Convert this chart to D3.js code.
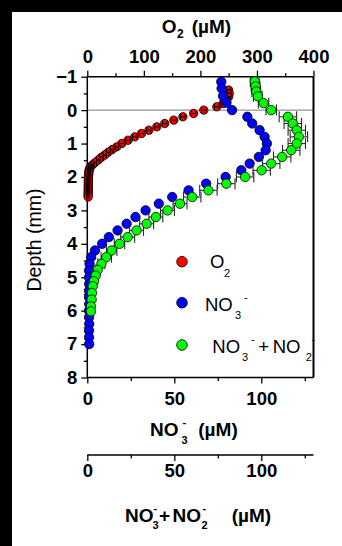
<!DOCTYPE html>
<html><head><meta charset="utf-8">
<script src="https://cdn.jsdelivr.net/npm/d3@7"></script>
<style>
html,body{margin:0;padding:0;background:#fff;}
svg{display:block;}
text{font-family:"Liberation Sans",Arial,Helvetica,sans-serif;}
</style></head><body>
<svg id="chart" width="342" height="546"></svg>
<script>
// ---- profile data (depth in mm, concentrations in µM) ----
const o2Depth = [-0.6,-0.5,-0.4,-0.3,-0.2,-0.1,0,0.1,0.2,0.3,0.4,0.5,0.6,0.7,0.8,0.9,1.0,1.1,
  1.18,1.26,1.34,1.41,1.49,1.57,1.64,1.7,
  1.75,1.8,1.85,1.9,1.95,2.0,2.05,2.1,2.15,2.2,2.25,2.3,2.35,2.4,2.45,2.5,2.55,2.6];
const o2Values = [250,251,250,246,240,229,206,188,169,153,137,123,109,96,84,72,61,52,
  44,37,31,25,19.5,13.6,9,5.5,
  4,3.2,2.8,2.5,2.3,2.1,2,2,1.9,1.9,1.8,1.8,1.7,1.7,1.6,1.6,1.5,1.5];
const o2Err = [4,4,4,4,4,4,4,4,4,4,4,4,4,4,4,4,4,3,
  3,3,3,3,3,3,3,3,
  2,2,2,2,2,2,2,2,2,2,2,2,2,2,2,2,2,2];

const no3Depth = [-0.85,-0.65,-0.42,-0.22,0,0.2,0.4,0.6,0.8,1.0,1.2,1.4,1.6,1.8,2.0,2.2,2.4,2.6,2.8,3.0,
  3.2,3.4,3.6,3.8,4.0,4.2,4.4,4.6,4.8,5.0,5.2,5.4,5.6,5.8,6.0,6.2,6.4,6.6,6.8,7.0];
const no3Values = [77.0,77.2,78.0,80.0,83.2,92.0,94.8,99.0,101.9,103.2,102.5,98.6,93.3,88.5,79.5,68.3,58.2,48.8,41.1,33.5,
  27.7,22.6,17.4,12.4,8.5,4.4,2.2,1.3,1.0,1.0,1.1,1.0,1.0,1.1,1.0,1.0,1.1,1.0,1.0,1.1];

const noxDepth = [-0.86,-0.71,-0.56,-0.41,-0.21,0.0,0.2,0.4,0.6,0.8,1.0,1.2,1.4,1.6,1.8,2.0,2.2,2.4,2.6,2.8,
  3.0,3.2,3.4,3.6,3.8,4.0,4.2,4.4,4.6,4.78,4.95,5.12,5.27,5.47,5.67,5.87,6.02];
const noxValues = [96.2,96.7,97.1,98.0,101.3,105.7,115.3,118.1,120.4,121.6,120.4,117.2,112.0,105.7,100.2,90.7,79.9,69.6,60.3,53.3,
  46.1,39.4,34.1,28.3,23.2,18.5,14.0,10.9,8.1,6.0,4.8,3.8,3.1,2.7,2.5,2.1,2.1];
const noxErr = [2.5,2.5,2.5,2.5,3,3,5,5,5,5,5,5,5,5,5,5,5,5,5,4,
  4,4,4,4,4,3,3,3,2,1.5,1.5,1.5,1.5,1.5,1.5,1.5,1.5];

// axis ticks
const depthTicks = [-1,0,1,2,3,4,5,6,7,8];
const depthMinor = [-0.5,0.5,1.5,2.5,3.5,4.5,5.5,6.5,7.5];
const o2Ticks = [0,100,200,300,400];
const o2Minor = [50,150,250,350];
const nTicks = [0,50,100];
const nMinor = [25,75,125];

// ---- layout ----
const W = 342, H = 546;
const L = 87.3, R = 313.5, T = 76.7, B = 377.5;
const AX2 = 455;

const svg = d3.select("#chart");
svg.append("rect").attr("width", W).attr("height", H).attr("fill", "#fff");
svg.append("rect").attr("x", 0).attr("y", 0).attr("width", 12).attr("height", H).attr("fill", "#000");
svg.append("rect").attr("x", 0).attr("y", 0).attr("width", W).attr("height", 12).attr("fill", "#000");

const y = d3.scaleLinear().domain([-1, 8]).range([T, B]);
const xO2 = d3.scaleLinear().domain([0, 400]).range([L, R]);
const xNO3 = d3.scaleLinear().domain([0, 130]).range([L, R]);
const xNOx = d3.scaleLinear().domain([0, 130]).range([L, R]);

function styleAxis(g) {
  g.select(".domain").remove();
  g.selectAll(".tick line").attr("stroke", "#000").attr("stroke-width", 1.3);
  g.selectAll(".tick text").attr("fill", "#000").attr("font-size", 18.5).attr("font-weight", "bold")
    .attr("font-family", "'Liberation Sans',Arial,sans-serif");
}
function addAxis(axisFn, scale, major, minor, transform, pad) {
  const gMin = svg.append("g").attr("transform", transform)
    .call(axisFn(scale).tickValues(minor).tickSize(3.5).tickFormat(""));
  styleAxis(gMin);
  const gMaj = svg.append("g").attr("transform", transform)
    .call(axisFn(scale).tickValues(major).tickSize(6).tickPadding(pad));
  styleAxis(gMaj);
  return gMaj;
}

addAxis(d3.axisLeft, y, depthTicks, depthMinor, `translate(${L},0)`, 4);
addAxis(d3.axisTop, xO2, o2Ticks, o2Minor, `translate(0,${T})`, 7.4);
addAxis(d3.axisBottom, xNO3, nTicks, nMinor, `translate(0,${B})`, 8);
addAxis(d3.axisBottom, xNOx, nTicks, nMinor, `translate(0,${AX2})`, 2.6);

// zero-depth (sediment surface) line
svg.append("line").attr("x1", L).attr("x2", R).attr("y1", y(0)).attr("y2", y(0))
  .attr("stroke", "#7a7a7a").attr("stroke-width", 1);

// frame
const frame = svg.append("g").attr("stroke", "#000").attr("fill", "none");
frame.append("line").attr("x1", L).attr("x2", L).attr("y1", T).attr("y2", B).attr("stroke-width", 1.5);
frame.append("line").attr("x1", L).attr("x2", R).attr("y1", B).attr("y2", B).attr("stroke-width", 1.5);
frame.append("line").attr("x1", L).attr("x2", R).attr("y1", T).attr("y2", T).attr("stroke-width", 1.5);
frame.append("line").attr("x1", R).attr("x2", R).attr("y1", T).attr("y2", B).attr("stroke-width", 2);
svg.append("line").attr("x1", L).attr("x2", R).attr("y1", AX2).attr("y2", AX2)
  .attr("stroke", "#000").attr("stroke-width", 1.3);

// horizontal error bars with end caps
function errorBars(g, depths, vals, errs, xs, cap, color, width) {
  const eb = g.append("g").attr("stroke", color).attr("stroke-width", width).attr("fill", "none");
  depths.forEach((d, i) => {
    const cy = y(d), x1 = xs(vals[i] - errs[i]), x2 = xs(vals[i] + errs[i]);
    eb.append("line").attr("x1", x1).attr("x2", x2).attr("y1", cy).attr("y2", cy);
    eb.append("line").attr("x1", x1).attr("x2", x1).attr("y1", cy - cap).attr("y2", cy + cap);
    eb.append("line").attr("x1", x2).attr("x2", x2).attr("y1", cy - cap).attr("y2", cy + cap);
  });
}
function markers(g, depths, vals, xs, r, fill) {
  g.append("g").selectAll("circle").data(depths).join("circle")
    .attr("cx", (d, i) => xs(vals[i])).attr("cy", d => y(d)).attr("r", r)
    .attr("fill", fill).attr("stroke", "#000").attr("stroke-width", 0.8);
}

const plot = svg.append("g");
// O2
markers(plot, o2Depth, o2Values, xO2, 4.2, "#ff0000");
errorBars(plot, o2Depth, o2Values, o2Err, xO2, 3.2, "#000", 0.9);
// NO3-
markers(plot, no3Depth, no3Values, xNO3, 4.7, "#0000ff");
// NO3- + NO2-
errorBars(plot, noxDepth, noxValues, noxErr, xNOx, 5.5, "#2a2a2a", 1.1);
markers(plot, noxDepth, noxValues, xNOx, 4.7, "#00ff00");

// text with sub/superscripts, each piece placed at its own x / baseline
function rich(parts, size, weight) {
  const t = svg.append("text").attr("font-size", size).attr("font-weight", weight).attr("fill", "#000");
  parts.forEach(p => {
    t.append("tspan").attr("x", p.x).attr("y", p.y)
      .attr("font-size", p.s || size).text(p.t);
  });
  return t;
}

// axis titles
rich([{t: "O", x: 161.7, y: 33.3}, {t: "2", x: 177, y: 37.5, s: 12}, {t: "(µM)", x: 191.7, y: 33.3}], 19, "bold");
rich([{t: "NO", x: 150, y: 436}, {t: "3", x: 181.5, y: 443.5, s: 11}, {t: "-", x: 182.5, y: 426, s: 11},
      {t: "(µM)", x: 198.3, y: 436}], 19, "bold");
rich([{t: "NO", x: 125, y: 521.7}, {t: "3", x: 152.5, y: 529, s: 11}, {t: "-", x: 153.5, y: 511.5, s: 11},
      {t: "+", x: 159, y: 521.7}, {t: "NO", x: 172.5, y: 521.7},
      {t: "2", x: 201.5, y: 529, s: 11}, {t: "-", x: 202.5, y: 511.5, s: 11},
      {t: "(µM)", x: 231.7, y: 521.7}], 19, "bold");

svg.append("text").attr("transform", "translate(41,240) rotate(-90)")
  .attr("text-anchor", "middle").attr("font-size", 19.5).attr("fill", "#000").text("Depth (mm)");

// legend
const legendItems = [
  {fill: "#ff0000", cy: 261.7},
  {fill: "#0000ff", cy: 302.7},
  {fill: "#00ff00", cy: 345}
];
svg.append("g").selectAll("circle").data(legendItems).join("circle")
  .attr("cx", 182).attr("cy", d => d.cy).attr("r", 5.3)
  .attr("fill", d => d.fill).attr("stroke", "#000").attr("stroke-width", 0.8);
rich([{t: "O", x: 210, y: 268.3}, {t: "2", x: 224, y: 276.7, s: 11}], 18.5, "normal");
rich([{t: "NO", x: 205, y: 310.7}, {t: "3", x: 235, y: 319.3, s: 11}, {t: "-", x: 244, y: 300.5, s: 11}], 18.5, "normal");
rich([{t: "NO", x: 212.3, y: 352.7}, {t: "3", x: 242, y: 361.3, s: 11}, {t: "-", x: 251, y: 342.5, s: 11},
      {t: "+", x: 258.3, y: 352.7}, {t: "NO", x: 272.7, y: 352.7},
      {t: "2", x: 305.7, y: 361.3, s: 11}, {t: "-", x: 311.5, y: 342.5, s: 11}], 18.5, "normal");
</script>
</body></html>
